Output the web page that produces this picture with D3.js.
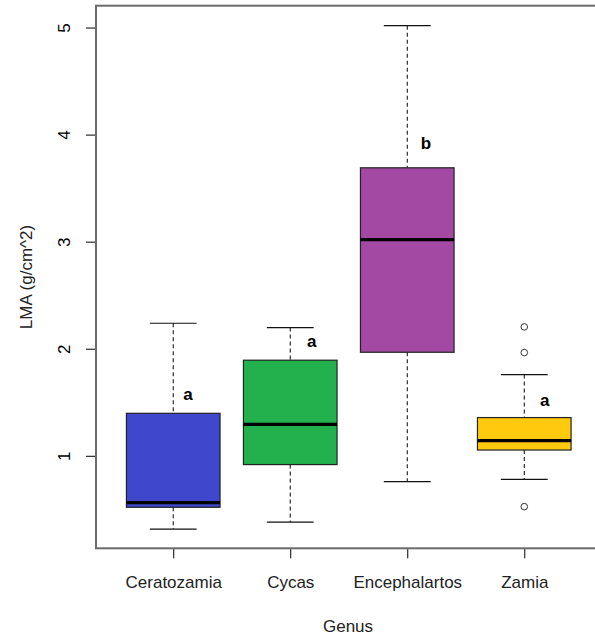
<!DOCTYPE html>
<html>
<head>
<meta charset="utf-8">
<script src="https://cdn.jsdelivr.net/npm/d3@7"></script>
<style>
  body { margin: 0; background: #fff; }
  svg { display: block; font-family: "Liberation Sans", Arial, sans-serif; }
</style>
</head>
<body>
<svg id="chart" width="595" height="637"></svg>
<script>
// Leaf mass per area by cycad genus
const genera = ["Ceratozamia", "Cycas", "Encephalartos", "Zamia"];
const whiskerLow = [0.316, 0.381, 0.759, 0.780];
const q1 = [0.519, 0.918, 1.967, 1.054];
const median = [0.563, 1.294, 3.020, 1.142];
const q3 = [1.397, 1.893, 3.690, 1.357];
const whiskerHigh = [2.238, 2.198, 5.017, 1.759];
const outliers = [[], [], [], [2.204, 1.964, 0.525]];
const yTicks = [1, 2, 3, 4, 5];

// Tukey group letters and where they are written (data coordinates)
const groupLetters = ["a", "a", "b", "a"];
const letterX = [1.126, 2.183, 3.16, 4.174];
const letterY = [1.525, 2.015, 3.87, 1.465];

const fills = ["#3F48CC", "#22B14C", "#A349A4", "#FFC90E"];

const svg = d3.select("#chart");
const plotLeft = 96, plotRight = 601.5, plotTop = 5.7, plotBottom = 548.3;
const FONT = 17;

// x positions follow R's 0.5..4.5 range with 4% padding
const x = d3.scaleLinear().domain([0.34, 4.66]).range([plotLeft, plotRight]);
const y = d3.scaleLinear().domain([0.136, 5.204]).range([plotBottom, plotTop]);
const unit = x(2) - x(1);
const boxW = unit * 0.8;
const capW = boxW / 2;

// y axis
const yAxis = svg.append("g").attr("transform", `translate(${plotLeft},0)`)
  .call(d3.axisLeft(y).tickValues(yTicks).tickSize(10).tickPadding(0).tickFormat(d3.format("d")));
yAxis.select(".domain").remove();
yAxis.selectAll(".tick line").attr("stroke", "#000");
yAxis.selectAll(".tick text")
  .attr("x", -26).attr("y", 0).attr("dy", 0)
  .attr("transform", "rotate(-90, -26, 0)")
  .attr("text-anchor", "middle")
  .attr("font-size", FONT).attr("fill", "#000")
  .attr("font-family", "Liberation Sans, Arial, sans-serif");

// x axis
const xAxis = svg.append("g").attr("transform", `translate(0,${plotBottom})`)
  .call(d3.axisBottom(x).tickValues([1, 2, 3, 4]).tickSize(10)
    .tickFormat((d) => genera[d - 1]));
xAxis.select(".domain").remove();
xAxis.selectAll(".tick line").attr("stroke", "#000");
xAxis.selectAll(".tick text")
  .attr("y", 39.7).attr("dy", 0)
  .attr("font-size", FONT).attr("fill", "#222")
  .attr("font-family", "Liberation Sans, Arial, sans-serif");

// plot frame
svg.append("rect")
  .attr("x", plotLeft).attr("y", plotTop)
  .attr("width", plotRight - plotLeft).attr("height", plotBottom - plotTop)
  .attr("fill", "none").attr("stroke", "#6b6b6b").attr("stroke-width", 2);

// boxes
const data = genera.map((g, i) => ({
  i: i + 1, lo: whiskerLow[i], q1: q1[i], med: median[i], q3: q3[i], hi: whiskerHigh[i],
  out: outliers[i], fill: fills[i]
}));

const grp = svg.append("g").selectAll("g").data(data).join("g");

// dashed whiskers
grp.append("line")
  .attr("x1", d => x(d.i)).attr("x2", d => x(d.i))
  .attr("y1", d => y(d.hi)).attr("y2", d => y(d.q3))
  .attr("stroke", "#000").attr("stroke-dasharray", "4,3");
grp.append("line")
  .attr("x1", d => x(d.i)).attr("x2", d => x(d.i))
  .attr("y1", d => y(d.q1)).attr("y2", d => y(d.lo))
  .attr("stroke", "#000").attr("stroke-dasharray", "4,3");
// whisker caps
grp.append("line")
  .attr("x1", d => x(d.i) - capW / 2).attr("x2", d => x(d.i) + capW / 2)
  .attr("y1", d => y(d.hi)).attr("y2", d => y(d.hi))
  .attr("stroke", "#111").attr("stroke-width", 1.2);
grp.append("line")
  .attr("x1", d => x(d.i) - capW / 2).attr("x2", d => x(d.i) + capW / 2)
  .attr("y1", d => y(d.lo)).attr("y2", d => y(d.lo))
  .attr("stroke", "#111").attr("stroke-width", 1.2);
// box
grp.append("rect")
  .attr("x", d => x(d.i) - boxW / 2).attr("width", boxW)
  .attr("y", d => y(d.q3)).attr("height", d => y(d.q1) - y(d.q3))
  .attr("fill", d => d.fill).attr("stroke", "#222").attr("stroke-width", 1.2);
// median
grp.append("line")
  .attr("x1", d => x(d.i) - boxW / 2).attr("x2", d => x(d.i) + boxW / 2)
  .attr("y1", d => y(d.med)).attr("y2", d => y(d.med))
  .attr("stroke", "#000").attr("stroke-width", 3.2);
// outliers
grp.selectAll("circle").data(d => d.out.map(v => ({ i: d.i, v }))).join("circle")
  .attr("cx", d => x(d.i)).attr("cy", d => y(d.v)).attr("r", 3.3)
  .attr("fill", "#fff").attr("stroke", "#333").attr("stroke-width", 1);

// significance letters
svg.append("g").selectAll("text").data(groupLetters).join("text")
  .attr("x", (d, i) => x(letterX[i]))
  .attr("y", (d, i) => y(letterY[i]))
  .attr("text-anchor", "middle")
  .attr("font-size", FONT).attr("font-weight", "bold").attr("fill", "#000")
  .text(d => d);

// axis titles
svg.append("text").attr("x", 348).attr("y", 631.7)
  .attr("text-anchor", "middle").attr("font-size", FONT).attr("fill", "#222")
  .text("Genus");
svg.append("text").attr("transform", "translate(31.5,277) rotate(-90)")
  .attr("text-anchor", "middle").attr("font-size", FONT).attr("fill", "#222")
  .text("LMA (g/cm^2)");
</script>
</body>
</html>
